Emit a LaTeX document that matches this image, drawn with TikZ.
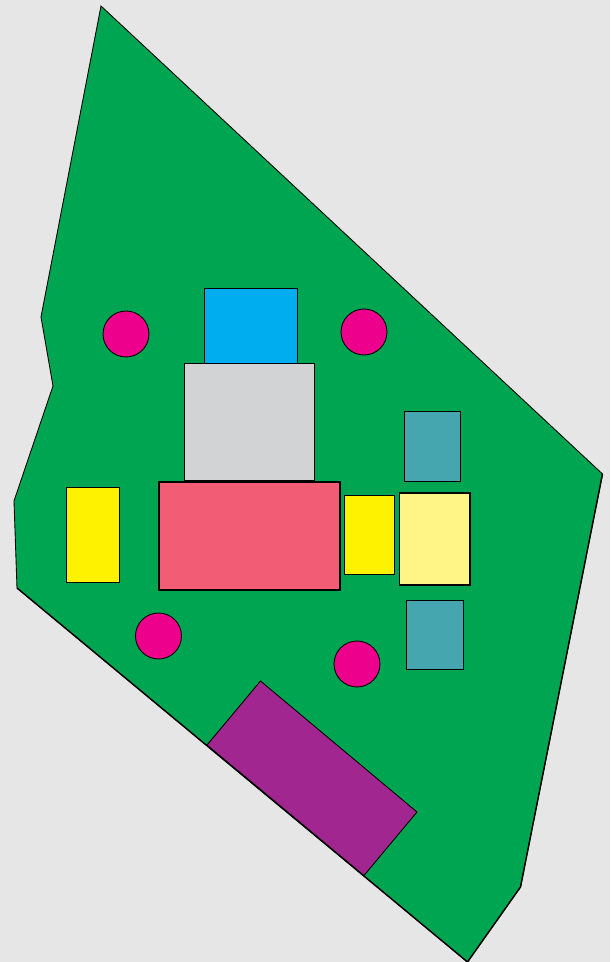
\documentclass[tikz,border=0pt]{standalone}
\usepackage{tikz}
\definecolor{bggray}{RGB}{230,230,230}
\definecolor{sitegreen}{RGB}{0,165,81}
\definecolor{treepink}{RGB}{236,0,140}
\definecolor{poolblue}{RGB}{0,174,239}
\definecolor{hallgray}{RGB}{209,211,212}
\definecolor{mainred}{RGB}{242,92,116}
\definecolor{shedyellow}{RGB}{255,242,0}
\definecolor{paleyellow}{RGB}{255,245,134}
\definecolor{tankteal}{RGB}{69,166,175}
\definecolor{parkpurple}{RGB}{162,38,143}

\begin{document}
\begin{tikzpicture}[x=.02cm,y=-.02cm,line width=.5pt]
  \tikzset{tree/.style={draw=black,fill=treepink},
    block/.style={draw=black,fill=#1}}
  \fill[bggray] (0,0) rectangle (610,962);
  \useasboundingbox (0,0) rectangle (610,962);

  % site
  \draw[fill=sitegreen] (101,6) -- (602.5,474) -- (520.5,887) -- (467.5,962)
    -- (17,588) -- (14,501) -- (53,386) -- (41,317) -- cycle;
  \draw[line width=.8pt] (602.5,474) -- (520.5,887) -- (467.5,962) -- (17,588);

  % trees
  \draw[tree] (126,334) circle (23);
  \draw[tree] (364,332) circle (23);
  \draw[tree] (158.5,636) circle (23);
  \draw[tree] (357,664) circle (23);

  % buildings
  \draw[block=poolblue] (204.5,288) rectangle (297,363);
  \draw[block=hallgray] (184.5,363) rectangle (314,480);
  \draw[block=mainred,line width=.8pt] (159,482) rectangle (340,590);
  \draw[block=shedyellow] (66.5,487) rectangle (119,582);
  \draw[block=shedyellow] (344.5,495) rectangle (394,574);
  \draw[block=paleyellow,line width=.9pt] (399.5,493) rectangle (470,585);
  \draw[block=tankteal] (404,411.5) rectangle (460.5,481);
  \draw[block=tankteal] (406.5,600) rectangle (463,669);

  % parking
  \draw[block=parkpurple] (260.5,681) -- (417,812) -- (364,875.5) -- (207,745) -- cycle;
\end{tikzpicture}
\end{document}
